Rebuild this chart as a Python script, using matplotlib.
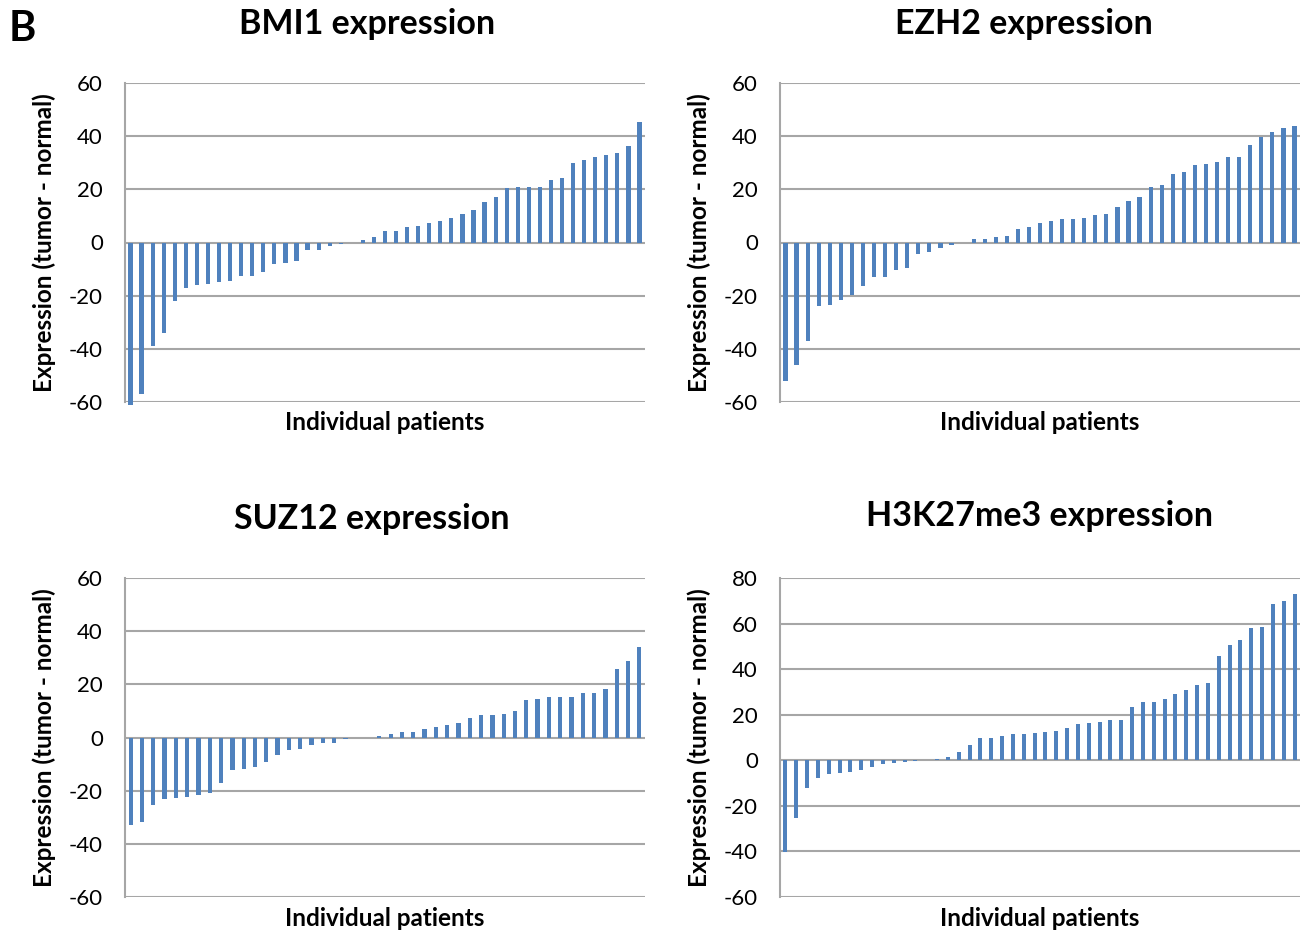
import matplotlib
matplotlib.use("Agg")
import matplotlib.pyplot as plt
import numpy as np

plt.rcParams['font.family'] = ['Lato', 'DejaVu Sans']

# values, patients sorted by difference
bmi1 = [-61, -57, -39, -34, -22, -17, -16, -15.5, -15, -14.6,
        -12.7, -12.6, -11.2, -8, -7.8, -7, -2.8, -2.8, -1.5, -0.6,
        0, 0.9, 2, 4.4, 4.4, 5.9, 6.3, 7.3, 8.2, 9.2,
        10.6, 12.2, 15.2, 17.1, 20.6, 20.8, 20.9, 21, 23.4, 24.2,
        29.8, 31.2, 32.2, 32.8, 33.7, 36.4, 45.5]
ezh2 = [-52, -46, -37, -24, -23.6, -21.5, -19.7, -16.5, -13, -12.8,
        -10.4, -9.6, -4.4, -3.6, -2.1, -1, -0.1, 1.5, 1.4, 2,
        2.4, 5.2, 6, 7.3, 8.2, 8.8, 8.8, 9.3, 10.4, 10.7,
        13.2, 15.5, 17, 20.8, 21.8, 25.8, 26.4, 29, 29.4, 30.4,
        32.2, 32.3, 36.6, 39.5, 41.4, 43.1, 43.9]
suz12 = [-33, -31.6, -25.4, -23.1, -22.9, -22.5, -21.6, -21, -17.2, -12.3,
         -11.7, -11.2, -9.1, -6.4, -4.8, -4.4, -2.9, -1.9, -1.9, -0.6,
         -0.2, -0.1, 0.6, 1.4, 1.9, 2.1, 3.3, 3.8, 4.6, 5.4,
         7.3, 8.4, 8.5, 8.8, 9.8, 14, 14.5, 15.2, 15.2, 15.2,
         16.6, 16.6, 18.4, 25.9, 28.8, 34]
h3k27me3 = [-40.3, -25.2, -12, -7.6, -6, -5.4, -5, -4.1, -2.8, -1.8,
            -1.2, -0.7, -0.1, 0.3, 0.6, 1.3, 3.8, 6.9, 9.7, 9.8,
            10.7, 11.6, 11.7, 11.9, 12.5, 13, 14.1, 15.8, 16.4, 16.6,
            17.6, 17.6, 23.6, 25.5, 25.7, 27, 29.2, 30.9, 33.1, 33.7,
            45.6, 50.4, 53, 58.1, 58.3, 68.7, 70, 73.1]

titles = ["BMI1 expression", "EZH2 expression", "SUZ12 expression", "H3K27me3 expression"]
series = [bmi1, ezh2, suz12, h3k27me3]
yticks_list = [np.arange(-60, 61, 20), np.arange(-60, 61, 20),
               np.arange(-60, 61, 20), np.arange(-60, 81, 20)]

W, H = 1308, 932
fig = plt.figure(figsize=(W / 100, H / 100), dpi=100)

# axes boxes in pixels: left, top, right, bottom
boxes = [(125, 83, 645, 402), (780, 83, 1300, 402),
         (125, 578, 645, 897), (780, 578, 1300, 897)]
# title centres in pixels
title_pos = [(367, 24), (1024, 24), (372, 519), (1040, 516)]

bar_color = "#4F81BD"
grid_color = "#A6A6A6"

for vals, title, yt, box, tp in zip(series, titles, yticks_list, boxes, title_pos):
    l, t, r, b = box
    ax = fig.add_axes([l / W, 1 - b / H, (r - l) / W, (b - t) / H])
    x = np.arange(len(vals))
    ax.bar(x, vals, width=0.38, color=bar_color, zorder=3, clip_on=False)
    ax.set_xlim(-0.5, len(vals) - 0.5)
    ax.set_ylim(yt[0], yt[-1])
    ax.set_yticks(yt)
    ax.set_yticklabels([str(v) for v in yt])
    ax.set_xticks([])
    ax.grid(axis="y", color=grid_color, linewidth=1.5, zorder=0)
    for s in ["top", "right", "bottom"]:
        ax.spines[s].set_visible(False)
    ax.spines["left"].set_color(grid_color)
    ax.spines["left"].set_linewidth(1.5)
    ax.tick_params(axis="y", length=0, pad=16, labelsize=16, colors="black")

    fig.text(tp[0] / W, 1 - tp[1] / H, title, ha="center", va="center",
             fontsize=24.5, fontweight="bold")
    fig.text((l + r) / 2 / W, 1 - (b + 21) / H, "Individual patients", ha="center",
             va="center", fontsize=17.5, fontweight="bold")
    fig.text((l - 81) / W, 1 - ((t + b) / 2) / H, "Expression (tumor - normal)",
             ha="center", va="center", rotation=90, fontsize=17.5, fontweight="bold")

fig.text(22 / W, 1 - 29 / H, "B", ha="center", va="center",
         fontsize=30, fontweight="bold")

fig.savefig("out.png", dpi=100)
